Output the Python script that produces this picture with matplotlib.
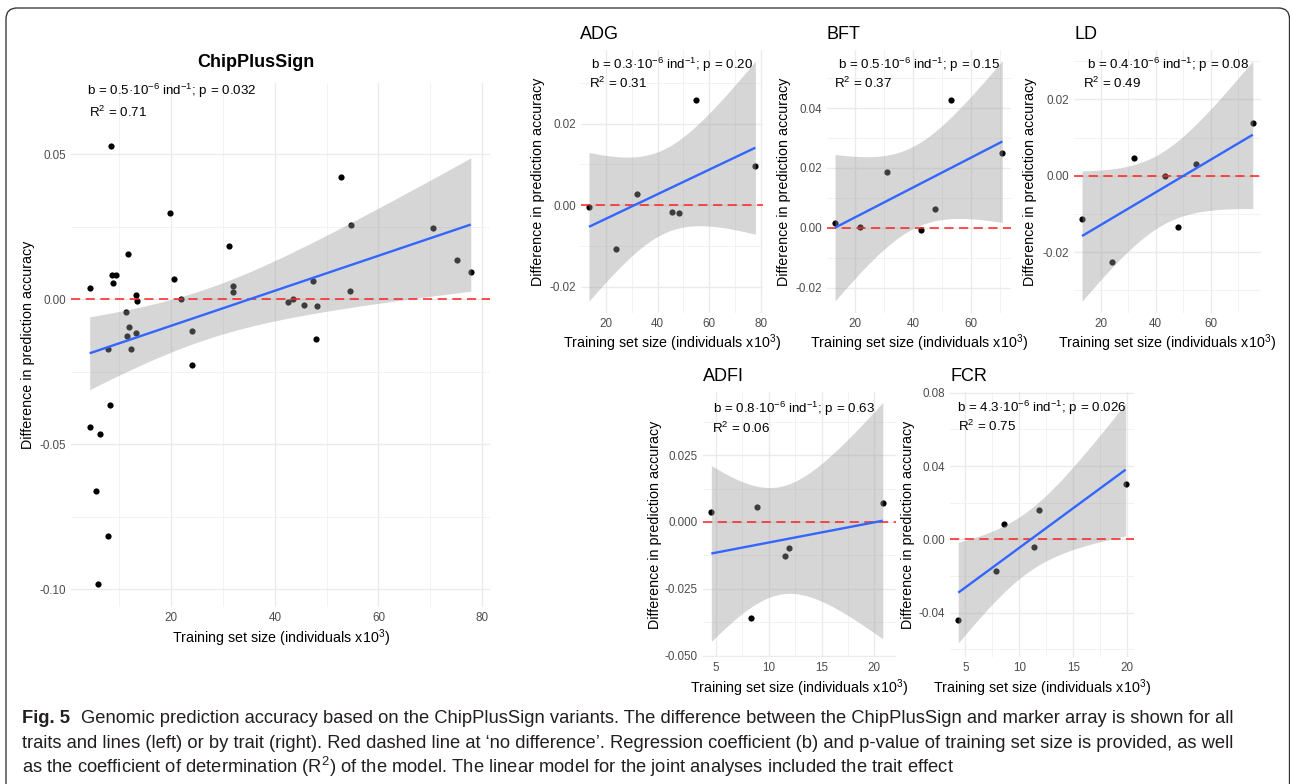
import math
import numpy as np
import matplotlib
matplotlib.use("Agg")
import matplotlib.pyplot as plt
from matplotlib.ticker import MultipleLocator, FormatStrFormatter
from matplotlib.patches import FancyBboxPatch
from matplotlib.transforms import IdentityTransform
from matplotlib import font_manager

# ---------------- data ----------------
main_x = [4.44, 8.43, 8.56, 9.33, 8.88, 11.77, 13.25, 13.44, 11.32, 11.90, 11.51, 13.25, 7.79, 12.29,
          19.75, 20.52, 21.87, 24.0, 24.1, 31.12, 32.0, 31.9, 42.6, 43.5, 45.65, 47.45, 48.2, 48.0,
          52.85, 54.65, 54.5, 70.5, 75.15, 77.8, 8.24, 4.32, 6.25, 5.48, 7.85, 5.86]
main_y = [0.0038, 0.0529, 0.0084, 0.0084, 0.0055, 0.0157, 0.0015, -0.0006, -0.0044, -0.0097, -0.0128, -0.0116, -0.0171, -0.0172,
          0.0298, 0.0070, 0.0002, -0.0109, -0.0225, 0.0185, 0.0046, 0.0026, -0.0008, 0.0000, -0.0020, 0.0063, -0.0022, -0.0136,
          0.0423, 0.0257, 0.0030, 0.0247, 0.0137, 0.0095, -0.0366, -0.0440, -0.0463, -0.0662, -0.0815, -0.0981]

adg_x = [13.4, 24.0, 31.9, 45.7, 48.3, 54.7, 77.9]
adg_y = [-0.0004, -0.0107, 0.0028, -0.0017, -0.0020, 0.0259, 0.0097]
bft_x = [13.0, 21.6, 30.8, 42.5, 47.4, 52.9, 70.7]
bft_y = [0.0017, 0.0002, 0.0187, -0.0008, 0.0064, 0.0426, 0.0251]
ld_x = [13.2, 24.1, 32.0, 43.5, 48.2, 54.7, 75.3]
ld_y = [-0.0114, -0.0225, 0.0047, 0.0000, -0.0134, 0.0031, 0.0139]
adfi_x = [4.56, 8.32, 8.92, 11.57, 11.95, 20.8]
adfi_y = [0.0039, -0.0359, 0.0056, -0.0126, -0.0096, 0.0071]
fcr_x = [4.35, 7.84, 8.55, 11.36, 11.82, 19.85]
fcr_y = [-0.0442, -0.0171, 0.0085, -0.0044, 0.0158, 0.0300]

titles = ["ChipPlusSign", "ADG", "BFT", "LD", "ADFI", "FCR"]
stats_b = ["0.5", "0.3", "0.5", "0.4", "0.8", "4.3"]
stats_p = ["0.032", "0.20", "0.15", "0.08", "0.63", "0.026"]
stats_r2 = ["0.71", "0.31", "0.37", "0.49", "0.06", "0.75"]

xlab = "Training set size (individuals x10$^3$)"
ylab = "Difference in prediction accuracy"

caption_bold = "Fig. 5"
caption_lines = [
    "Genomic prediction accuracy based on the ChipPlusSign variants. The difference between the ChipPlusSign and marker array is shown for all",
    "traits and lines (left) or by trait (right). Red dashed line at \u2018no difference\u2019. Regression coefficient (b) and p-value of training set size is provided, as well",
    "as the coefficient of determination (R$^2$) of the model. The linear model for the joint analyses included the trait effect",
]

# ---------------- style ----------------
plt.rcParams['font.family'] = ['Liberation Sans', 'DejaVu Sans']
plt.rcParams['mathtext.default'] = 'regular'
plt.rcParams['axes.unicode_minus'] = False

W, H = 1290, 784
fig = plt.figure(figsize=(W / 100, H / 100), dpi=100)
fig.patch.set_facecolor('white')


def fx(px):
    return px / W


def fy(py):
    return 1 - py / H


def t_crit(df, p=0.975):
    c = math.exp(math.lgamma((df + 1) / 2) - math.lgamma(df / 2)) / math.sqrt(df * math.pi)
    t = np.linspace(0, 30, 300001)
    pdf = c * (1 + t ** 2 / df) ** (-(df + 1) / 2)
    cdf = 0.5 + np.concatenate([[0.0], np.cumsum((pdf[1:] + pdf[:-1]) / 2 * np.diff(t))])
    return float(np.interp(p, cdf, t))


def lm_band(x, y, n=100):
    x = np.asarray(x, float)
    y = np.asarray(y, float)
    b, a = np.polyfit(x, y, 1)
    xs = np.linspace(x.min(), x.max(), n)
    fit = a + b * xs
    res = y - (a + b * x)
    df = len(x) - 2
    s = np.sqrt(np.sum(res ** 2) / df)
    se = s * np.sqrt(1 / len(x) + (xs - x.mean()) ** 2 / np.sum((x - x.mean()) ** 2))
    tq = t_crit(df)
    return xs, fit, fit - tq * se, fit + tq * se


def panel(box, xlim, ylim, xmaj, ymaj, yfmt, x, y):
    l, t, r, b = box
    ax = fig.add_axes([fx(l), fy(b), (r - l) / W, (b - t) / H])
    ax.set_facecolor('white')
    ax.set_xlim(xlim)
    ax.set_ylim(ylim)
    for s in ax.spines.values():
        s.set_visible(False)
    ax.xaxis.set_major_locator(MultipleLocator(xmaj))
    ax.xaxis.set_minor_locator(MultipleLocator(xmaj / 2))
    ax.yaxis.set_major_locator(MultipleLocator(ymaj))
    ax.yaxis.set_minor_locator(MultipleLocator(ymaj / 2))
    ax.xaxis.set_major_formatter(FormatStrFormatter('%d'))
    ax.yaxis.set_major_formatter(FormatStrFormatter(yfmt))
    ax.grid(which='major', color='#EBEBEB', lw=1.0)
    ax.grid(which='minor', color='#F0F0F0', lw=0.6)
    ax.set_axisbelow(True)
    ax.tick_params(which='both', length=0, labelsize=8.4, labelcolor='#4D4D4D', pad=3.5)
    ax.scatter(x, y, s=20, color='black', linewidths=0, zorder=2)
    xs, fit, lo, hi = lm_band(x, y)
    ax.fill_between(xs, lo, hi, color='#999999', alpha=0.4, lw=0, zorder=3)
    ax.axhline(0, color='#FF2020', ls=(0, (6.0, 3.6)), lw=1.1, zorder=4)
    ax.plot(xs, fit, color='#3366FF', lw=1.7, solid_capstyle='butt', zorder=5)
    return ax


def stat_text(i, bx, by, rx, ry):
    fig.text(fx(bx), fy(by), "b = " + stats_b[i] + "\u00b710$^{-6}$ ind$^{-1}$; p = " + stats_p[i],
             fontsize=9.6, ha='left', va='baseline', color='black')
    fig.text(fx(rx), fy(ry), "R$^2$ = " + stats_r2[i], fontsize=9.6, ha='left', va='baseline', color='black')


def labels(cx, bl_x, ly_x, cy):
    fig.text(fx(cx), fy(bl_x), xlab, fontsize=10.3, ha='center', va='baseline')
    fig.text(fx(ly_x), fy(cy), ylab, fontsize=10.3, ha='center', va='center', rotation=90)


# ---------------- frame ----------------
frame = FancyBboxPatch((6, -40), 1283.5, H - 8 + 40, boxstyle="round,pad=0,rounding_size=11",
                       transform=IdentityTransform(), fill=False, ec='#333333', lw=0.95, zorder=0)
fig.add_artist(frame)

# ---------------- main panel ----------------
panel((71, 82.7, 490, 606.7), (0.71, 81.5), (-0.106, 0.0747), 20, 0.05, '%.2f', main_x, main_y)
fig.text(fx(256), fy(66.7), titles[0], fontsize=13, fontweight='bold', ha='center', va='baseline')
stat_text(0, 86.7, 95, 88.7, 117.3)
labels(280.5, 642.7, 28, 344.7)

# ---------------- trait panels ----------------
specs = [
    # box, xlim, ylim, xmaj, ymaj, fmt, data, title pos, stat pos, label pos
    ((581, 50, 763, 313), (10.31, 80.85), (-0.0265, 0.0381), 20, 0.02, '%.2f', adg_x, adg_y,
     (580, 39), (591, 69.3, 589, 88.3), (672, 348.3, 538, 181.5)),
    ((826.6, 50, 1010.7, 313), (10.1, 73.6), (-0.0285, 0.0594), 20, 0.02, '%.2f', bft_x, bft_y,
     (826, 39), (837.7, 69.3, 834.3, 88.3), (918.6, 348.3, 784, 181.5)),
    ((1073.5, 50, 1261.3, 313), (10.1, 78.4), (-0.0359, 0.0329), 20, 0.02, '%.2f', ld_x, ld_y,
     (1074, 39), (1086.7, 69.3, 1083.3, 88.3), (1167.4, 348.3, 1030, 181.5)),
    ((702.6, 392, 895.8, 657), (3.73, 22.03), (-0.0505, 0.0486), 5, 0.025, '%.3f', adfi_x, adfi_y,
     (702.7, 380.7), (712.7, 413.3, 711.7, 432.7), (799.2, 693.3, 655, 524.5)),
    ((949.9, 392, 1134, 657), (3.575, 20.625), (-0.0642, 0.0804), 5, 0.04, '%.2f', fcr_x, fcr_y,
     (950, 380.7), (956.7, 411.7, 958.3, 431), (1042, 693.3, 908, 524.5)),
]
for i, sp in enumerate(specs, start=1):
    box, xl, yl, xm, ym, fmt, xd, yd, tpos, spos, lpos = sp
    panel(box, xl, yl, xm, ym, fmt, xd, yd)
    fig.text(fx(tpos[0]), fy(tpos[1]), titles[i], fontsize=13, ha='left', va='baseline')
    stat_text(i, *spos)
    labels(*lpos)

# ---------------- caption ----------------
def has_font(name):
    try:
        font_manager.findfont(font_manager.FontProperties(family=name), fallback_to_default=False)
        return True
    except Exception:
        return False


cap_family = ['Liberation Sans Narrow', 'Liberation Sans'] if has_font('Liberation Sans Narrow') else ['Liberation Sans']
cap_color = '#231F20'
renderer = fig.canvas.get_renderer()
probe = fig.text(0, 0, caption_lines[1], fontsize=12, family=cap_family)
wprobe = probe.get_window_extent(renderer).width
probe.remove()
cap_fs = 12 * (1237 - 22) / wprobe

base_y = [723, 748, 773]
fb = fig.text(fx(22), fy(base_y[0]), caption_bold, fontsize=cap_fs, family=cap_family, fontweight='bold',
              color=cap_color, ha='left', va='baseline')
wb = fb.get_window_extent(renderer).width
fig.text(fx(22 + wb + 11), fy(base_y[0]), caption_lines[0], fontsize=cap_fs, family=cap_family,
         color=cap_color, ha='left', va='baseline')
fig.text(fx(22), fy(base_y[1]), caption_lines[1], fontsize=cap_fs, family=cap_family,
         color=cap_color, ha='left', va='baseline')
fig.text(fx(22), fy(base_y[2]), caption_lines[2], fontsize=cap_fs, family=cap_family,
         color=cap_color, ha='left', va='baseline')

fig.savefig("out.png", dpi=100, facecolor='white')
